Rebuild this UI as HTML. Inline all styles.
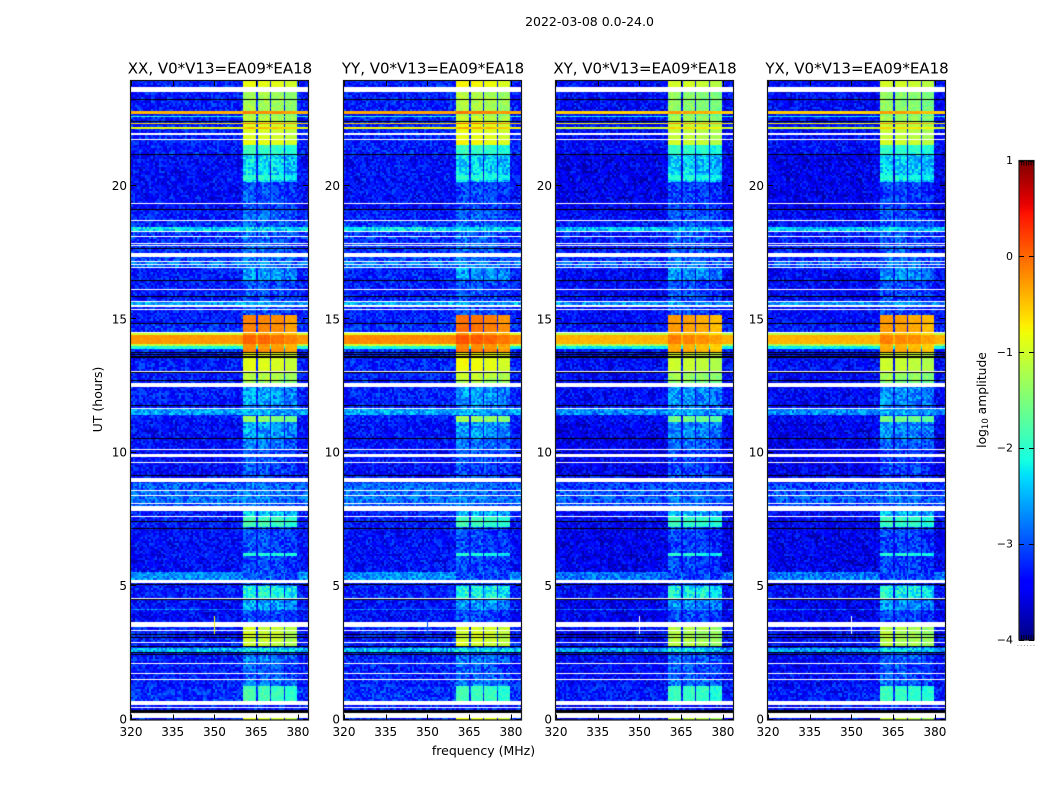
<!DOCTYPE html>
<html>
<head>
<meta charset="utf-8">
<title>2022-03-08 0.0-24.0</title>
<style>
html,body{margin:0;padding:0;background:#fff;width:1050px;height:800px;overflow:hidden}
#stage{position:relative;width:1050px;height:800px}
canvas{position:absolute;display:block}
svg{position:absolute;left:0;top:0}
text{font-family:"DejaVu Sans","Liberation Sans",sans-serif;fill:#000}
</style>
</head>
<body>
<div id="stage">
<svg id="overlay" width="1050" height="800"></svg>
</div>
<script>
var K = -9;
var W = null;
var panelTitles = ["XX, V0*V13=EA09*EA18","YY, V0*V13=EA09*EA18","XY, V0*V13=EA09*EA18","YX, V0*V13=EA09*EA18"];
var panelKeys = ["xx","yy","xy","yx"];
var freqTicks = [320,335,350,365,380];
var timeTicks = [0,5,10,15,20];
var colorTicks = [1,0,-1,-2,-3,-4];
var bandStart = [
0,.07,.26,.36,.43,.48,.53,.70,1.26,1.48,
1.52,1.72,1.76,2.09,2.13,2.42,2.46,2.48,2.53,2.68,
2.71,2.75,2.87,2.91,3.04,3.08,3.16,3.20,3.31,3.36,
3.47,3.64,4.11,4.15,4.46,4.50,4.55,5.00,5.03,5.08,
5.10,5.22,5.53,6.13,6.24,7.15,7.19,7.21,7.41,7.45,
7.58,7.62,7.83,8.00,8.05,8.07,8.09,8.13,8.38,8.42,
8.57,8.61,8.87,8.90,9.06,9.12,9.18,9.62,9.66,9.84,
9.95,10.11,10.15,10.52,10.56,11.16,11.38,11.42,11.65,11.69,
11.75,11.79,12.47,12.60,12.64,12.68,12.70,12.74,13.00,13.03,
13.07,13.56,13.61,13.66,13.70,13.72,13.76,13.89,14.00,14.06,
14.41,14.50,14.54,14.82,14.86,15.16,15.33,15.37,15.45,15.53,
15.65,15.69,15.84,15.88,16.11,16.15,16.44,16.48,16.93,16.97,
17.04,17.08,17.14,17.18,17.35,17.50,17.62,17.66,17.74,17.78,
17.83,17.87,18.07,18.11,18.26,18.30,18.45,18.67,18.71,19.10,
19.14,19.33,19.37,20.14,20.22,20.41,21.17,21.21,21.54,21.73,
21.77,21.89,21.98,22.14,22.21,22.30,22.35,22.39,22.43,22.57,
22.61,22.71,22.81,23.20,23.24,23.50,23.69];
var offLevel = [
-3.2,W,K,-3.2,W,-3.2,W,-3.1,-3.2,W,
-3.2,W,-3.2,W,-3.2,K,-3.2,K,-2.4,-3.2,
K,-3.2,W,-3.2,K,-3.2,K,-3.2,W,-3.2,
W,-3.3,-2.7,-3.3,K,W,-3.2,-3.2,K,-3.2,
W,-2.6,-3.3,-3.3,-3.3,K,-3.3,-3.2,K,-3.2,
W,-3.2,W,-2.9,W,-2.9,W,-2.8,W,-2.8,
W,-2.85,-3.1,W,-3.2,K,-3.3,W,-3.3,W,
-3.3,W,-3.3,K,-3.3,-3.2,-3.2,-2.5,W,-3.2,
K,-3.2,W,-3.2,K,-3.2,K,-3.2,K,W,
-3.2,K,-3.2,K,-3.2,K,-3.1,-2.0,-1.1,-0.25,
-1.0,W,-3.1,K,-3.2,-3.2,W,-3.2,W,-2.5,
W,-3.2,K,-3.2,W,-3.2,K,-3.2,W,-2.8,
W,-2.8,W,-3.0,W,-3.1,K,-3.1,W,-3.1,
W,-3.1,W,-3.1,W,-2.2,-3.1,W,-3.2,K,
-3.3,W,-3.3,-3.3,-3.3,-3.3,K,-3.2,-3.2,W,
-3.2,W,-3.2,-0.85,-3.2,-0.6,-3.2,K,-3.2,-2.0,
-3.2,-0.4,-3.2,K,-3.2,W,-3.2];
var onLevel = [
-1.0,W,K,-3.2,W,-3.2,W,-1.85,-2.8,W,
-2.9,W,-2.9,W,-2.8,K,-3.0,K,-2.2,-2.9,
K,-1.1,W,-1.1,K,-1.1,K,-1.1,W,-1.1,
W,-3.0,-2.6,-2.6,K,W,-2.05,-2.9,K,-3.0,
W,-3.0,-3.0,-2.0,-3.0,K,-3.0,-1.85,K,-1.85,
W,-2.4,W,-2.9,W,-2.9,W,-2.8,W,-2.8,
W,-2.85,-3.1,W,-3.0,K,-3.0,W,-3.0,W,
-3.0,W,-2.8,K,-2.6,-1.45,-3.0,-2.5,W,-2.8,
K,-2.6,W,-1.4,K,-1.4,K,-1.2,K,W,
-0.95,K,-0.9,K,-0.9,K,-0.25,-0.3,-0.3,-0.05,
-0.4,W,-0.2,K,-0.2,-3.0,W,-3.0,W,-2.6,
W,-3.0,K,-2.95,W,-2.95,K,-2.6,W,-2.8,
W,-2.8,W,-2.8,W,-2.9,K,-2.9,W,-2.9,
W,-2.9,W,-2.9,W,-2.3,-2.9,W,-2.9,K,
-3.0,W,-3.0,-2.3,-2.0,-2.3,K,-1.9,-0.9,W,
-1.0,W,-1.0,-0.5,-1.0,-0.1,-1.0,K,-1.2,-1.2,
-1.4,-0.2,-1.3,K,-1.3,W,-0.9];
var subbandStart = [360.4,365.5,370.4,375.4];
var subbandEnd = [364.9,369.9,374.8,379.6];
var subbandGain = [0.08,0.05,0,-0.1];
var panelOffGain = [-0.08,-0.06,-0.2,-0.2];
var panelOnGain = [-0.05,-0.08,-0.12,-0.12];
var panelBrightGain = [0,0.08,-0.15,-0.15];
var spikeFreq = [350];
var spikeStart = [3.19];
var spikeEnd = [3.89];
var spikeLevel = [-0.8,-3.0,W,W];
var speckle = [.62,-.41,.13,-.88,.35,.94,-.27,-.63,.08,.71,-.95,.44,-.12,.29,-.54,.83,-.76,.19,.57,-.33,
-.02,.91,-.68,.38,-.49,.16,.77,-.85,.24,-.18,.66,-.59,.47,-.92,.05,.86,-.37,.31,-.71,.53,
-.24,.98,-.44,.11,-.81,.69,-.07,.41,-.64,.22,.79,-.52,-.15,.59,-.97,.34,.03,-.73,.89,-.29,
.48,-.58,.17,-.83,.74,-.11,.27,-.47,.96,-.66,.09,.55,-.21,-.78,.39,.64,-.36,.12,-.9,.81,
-.05,.43,-.61,.25,-.74,.93,-.31,.5,-.16,.07,-.87,.68,-.43,.2,.58,-.56,.33];

var axesLeft = [131,344,556,768];
var axesWidth = 177;
var axesTop = 81;
var axesBottom = 719.5;
var freqMin = 320;
var freqMax = 383.6;
var timeMin = 0;
var timeMax = 23.93;
var colorMin = -4;
var colorMax = 1;
var cbarLeft = 1019;
var cbarRight = 1034;
var cbarTop = 160.5;
var cbarBottom = 640;
var timeStep = 0.075;
var chanStep = 0.72;
var NS = "http://www.w3.org/2000/svg";
var overlay = document.getElementById("overlay");
var stage = document.getElementById("stage");

function xScale(p,f){return axesLeft[p]+(f-freqMin)/(freqMax-freqMin)*axesWidth;}
function yScale(t){return axesBottom-(t-timeMin)/(timeMax-timeMin)*(axesBottom-axesTop);}
function cbarScale(v){return cbarBottom-(v-colorMin)/(colorMax-colorMin)*(cbarBottom-cbarTop);}
function lerp(pts,t){
  for(var i=1;i<pts.length;i++){
    if(t<=pts[i][0]){
      var a=pts[i-1],b=pts[i];
      return a[1]+(b[1]-a[1])*(t-a[0])/(b[0]-a[0]);
    }
  }
  return pts[pts.length-1][1];
}
var jetR=[[0,0],[.35,0],[.66,1],[.89,1],[1,.5]];
var jetG=[[0,0],[.125,0],[.375,1],[.64,1],[.91,0],[1,0]];
var jetB=[[0,.5],[.11,1],[.34,1],[.65,0],[1,0]];
function jet(v){
  var t=Math.max(0,Math.min(1,(v-colorMin)/(colorMax-colorMin)));
  return "rgb("+Math.round(255*lerp(jetR,t))+","+Math.round(255*lerp(jetG,t))+","+Math.round(255*lerp(jetB,t))+")";
}
function svgEl(tag,attrs,parent){
  var e=document.createElementNS(NS,tag);
  for(var k in attrs){e.setAttribute(k,attrs[k]);}
  (parent||overlay).appendChild(e);
  return e;
}
function addText(str,x,y,size,anchor,parent){
  var e=svgEl("text",{x:x,y:y,"font-size":size,"text-anchor":anchor},parent);
  e.textContent=str;
  return e;
}
function cellValue(level,row,col,panel,gain,brightGain){
  var amp = level<-2 ? 0.4 : (level<-1 ? 0.17 : 0.07);
  var idx = (row*31+col*17+((row*col)%13)*7+panel*11)%speckle.length;
  return level+(level>-1.5?brightGain:gain)+amp*speckle[idx];
}
function drawPanel(p){
  var cv=document.createElement("canvas");
  
  
  cv.width=axesWidth;
  cv.height=Math.ceil(axesBottom-axesTop);
  cv.style.left=axesLeft[p]+"px";
  cv.style.top=axesTop+"px";
  stage.insertBefore(cv,overlay);
  var ctx=cv.getContext("2d");
  ctx.fillStyle="#fff";
  ctx.fillRect(0,0,cv.width,cv.height);
  var ox=axesLeft[p];
  function fillCell(f0,f1,t0,t1,color){
    var x0=Math.round(xScale(p,f0)-ox),x1=Math.round(xScale(p,f1)-ox);
    var y0=Math.round(yScale(t1)-axesTop),y1=Math.round(yScale(t0)-axesTop);
    if(y1<=y0){y1=y0+1;}
    ctx.fillStyle=color;
    ctx.fillRect(x0,y0,Math.max(1,x1-x0),y1-y0);
  }
  for(var b=0;b<bandStart.length;b++){
    var s=bandStart[b];
    var e=b+1<bandStart.length?bandStart[b+1]:timeMax;
    var off=offLevel[b],on=onLevel[b];
    if(off===W){
      fillCell(freqMin,freqMax,s,e,"#fff");
      continue;
    }
    if(off===K){
      fillCell(freqMin,freqMax,s,e,"#000");
      continue;
    }
    for(var t=s;t<e-1e-6;t+=timeStep){
      var te=Math.min(t+timeStep,e);
      var row=Math.floor(t/timeStep+0.001);
      var col=0;
      for(var f=freqMin;f<freqMax-1e-6;f+=chanStep){
        fillCell(f,Math.min(f+chanStep,freqMax),t,te,jet(cellValue(off,row,col,p,panelOffGain[p],panelBrightGain[p])));
        col++;
      }
      for(var k=0;k<subbandStart.length;k++){
        var n=Math.max(1,Math.round((subbandEnd[k]-subbandStart[k])/chanStep));
        var w=(subbandEnd[k]-subbandStart[k])/n;
        for(var c=0;c<n;c++){
          var v=cellValue(on,row,c+k*7,p,panelOnGain[p],panelBrightGain[p])+subbandGain[k];
          fillCell(subbandStart[k]+c*w,subbandStart[k]+(c+1)*w,t,te,jet(v));
        }
      }
    }
  }
  for(var i=0;i<spikeFreq.length;i++){
    var lvl=spikeLevel[p];
    fillCell(spikeFreq[i],spikeFreq[i]+0.3,spikeStart[i],spikeEnd[i],lvl===W?"#fff":jet(lvl));
  }
}
function drawAxes(p){
  var g=svgEl("g",{});
  
  
  var frame=svgEl("rect",{x:axesLeft[p]-0.5,y:axesTop-0.5,width:axesWidth+1,height:axesBottom-axesTop+1,fill:"none",stroke:"#1a1a1a","stroke-width":1.2},g);
  
  
  var title=addText(panelTitles[p],axesLeft[p]+axesWidth/2+0.5,73.5,15,"middle",g);
  
  
  freqTicks.forEach(function(f){
    var x=Math.round(xScale(p,f))+0.5;
    var t1=svgEl("line",{x1:x,x2:x,y1:axesBottom,y2:axesBottom-5,stroke:"#000","stroke-width":1},g);
    
    
    var t2=svgEl("line",{x1:x,x2:x,y1:axesTop,y2:axesTop+5,stroke:"#000","stroke-width":1},g);
    
    
    var lb=addText(String(f),xScale(p,f),736,12,"middle",g);
    
    
  });
  timeTicks.forEach(function(h){
    var y=Math.round(yScale(h))-0.5;
    var t1=svgEl("line",{x1:axesLeft[p],x2:axesLeft[p]+5,y1:y,y2:y,stroke:"#000","stroke-width":1},g);
    
    
    var t2=svgEl("line",{x1:axesLeft[p]+axesWidth,x2:axesLeft[p]+axesWidth-5,y1:y,y2:y,stroke:"#000","stroke-width":1},g);
    
    
    var lb=addText(String(h),axesLeft[p]-4,yScale(h)+4,12,"end",g);
    
    
  });
}
function drawColorbar(){
  var g=svgEl("g",{});
  
  
  var steps=240;
  for(var i=0;i<steps;i++){
    var v0=colorMin+(colorMax-colorMin)*i/steps;
    var v1=colorMin+(colorMax-colorMin)*(i+1)/steps;
    var r=svgEl("rect",{x:cbarLeft,y:cbarScale(v1),width:cbarRight-cbarLeft,height:cbarScale(v0)-cbarScale(v1)+0.6,fill:jet((v0+v1)/2)},g);
    
    
  }
  var fr=svgEl("rect",{x:cbarLeft,y:cbarTop,width:cbarRight-cbarLeft,height:cbarBottom-cbarTop,fill:"none",stroke:"#1a1a1a","stroke-width":1.2},g);
  
  
  colorTicks.forEach(function(v){
    var y=Math.round(cbarScale(v))+0.5;
    var a=svgEl("line",{x1:cbarLeft,x2:cbarLeft+5,y1:y,y2:y,stroke:"#000"},g);
    
    
    var b=svgEl("line",{x1:cbarRight,x2:cbarRight-5,y1:y,y2:y,stroke:"#000"},g);
    
    
    var lb=addText((v<0?"\u2212":"")+Math.abs(v),1013,cbarScale(v)+3.5,11,"end",g);
    
    
  });
  for(var m=0;m<6;m++){
    var x=cbarLeft+2.5+m*2.4;
    var u=svgEl("line",{x1:x,x2:x,y1:cbarTop,y2:cbarTop+5,stroke:"#000","stroke-width":0.8},g);
    
    
    var d=svgEl("line",{x1:x,x2:x,y1:cbarBottom,y2:cbarBottom-5,stroke:"#000","stroke-width":0.8},g);
    
    
    var dot=svgEl("rect",{x:1017.5+m*3.2,y:645,width:1,height:1,fill:"#999"},g);
    
    
  }
}
for(var p=0;p<panelTitles.length;p++){
  drawPanel(p);
}
for(var q=0;q<panelTitles.length;q++){
  drawAxes(q);
}
drawColorbar();

var suptitle=addText("2022-03-08 0.0-24.0",589.5,26,12.5,"middle");


var xTitle=addText("frequency (MHz)",483.5,755,12.5,"middle");


var yTitle=addText("UT (hours)",0,0,12.5,"middle");
yTitle.setAttribute("transform","translate(102,399.5) rotate(-90)");


var cTitle=svgEl("text",{"font-size":12.3,"text-anchor":"middle",transform:"translate(986,400) rotate(-90)"});


var t1=svgEl("tspan",{},cTitle);
t1.textContent="log";
var t2=svgEl("tspan",{dy:2,"font-size":8.5},cTitle);
t2.textContent="10";
var t3=svgEl("tspan",{dy:-2},cTitle);
t3.textContent=" amplitude";
</script>
</body>
</html>
